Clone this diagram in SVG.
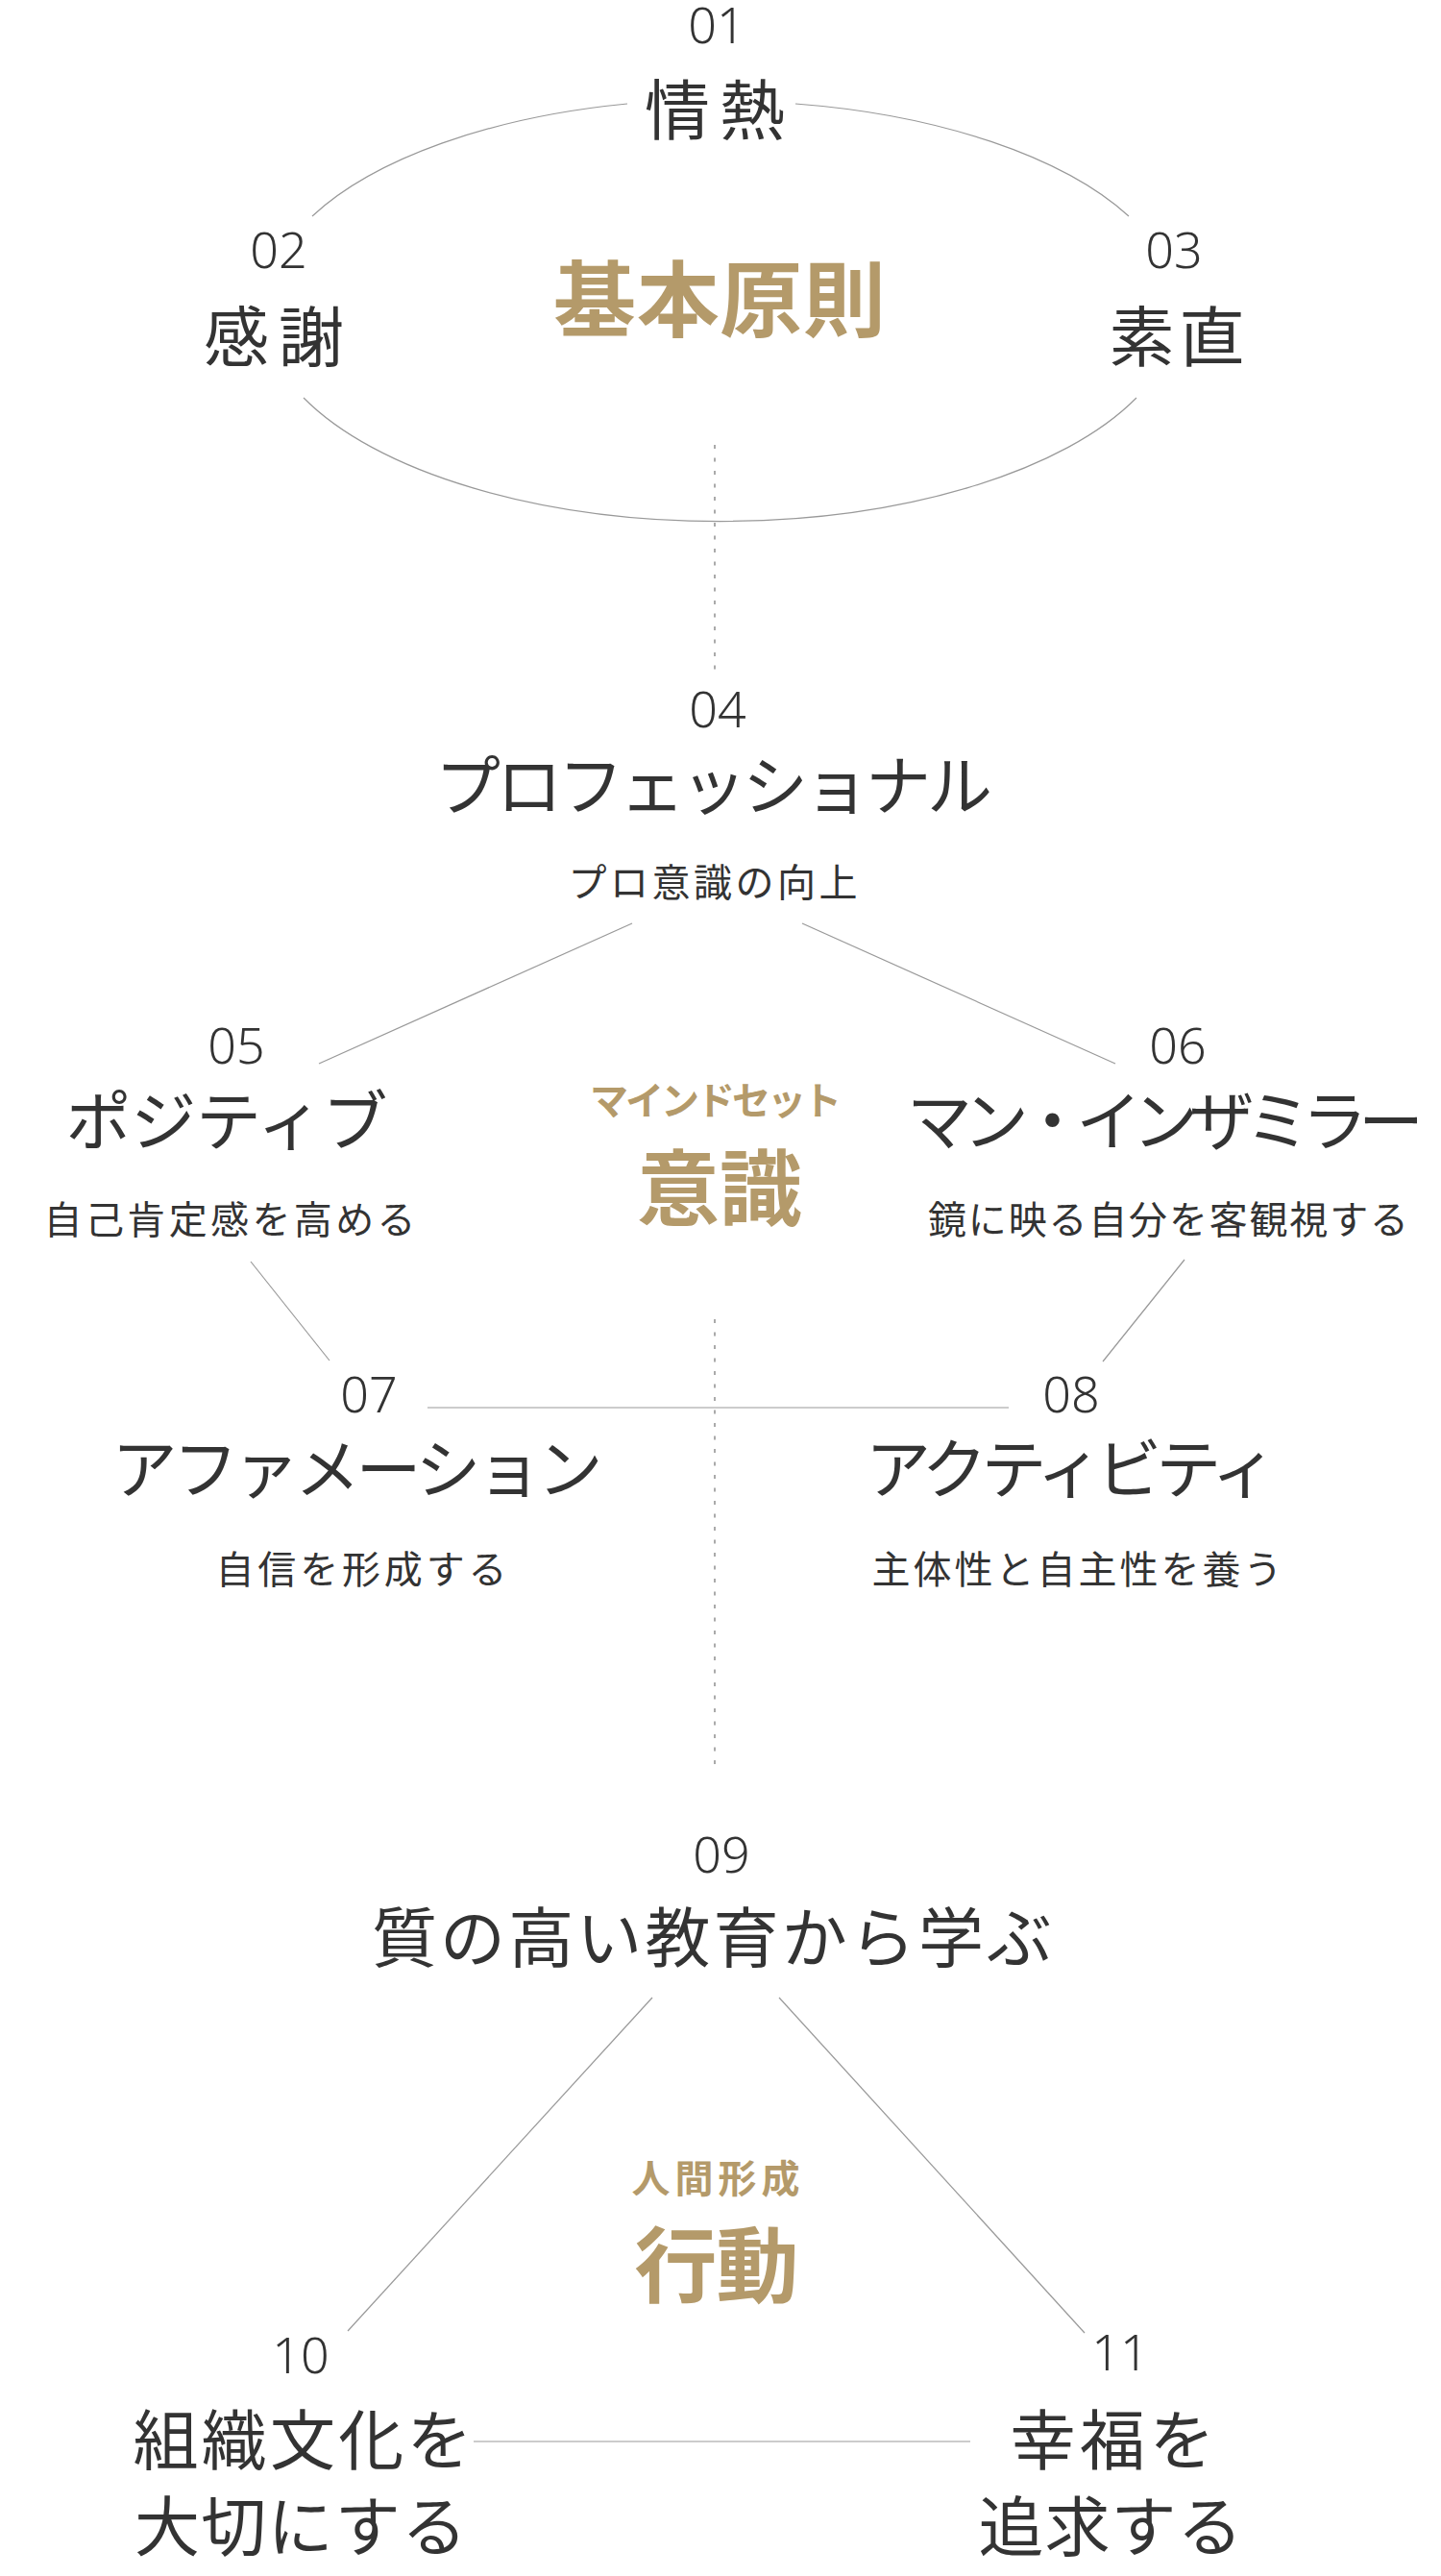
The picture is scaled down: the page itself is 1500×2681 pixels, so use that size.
<svg xmlns="http://www.w3.org/2000/svg" width="1500" height="2681" viewBox="0 0 1500 2681">
<style>
text{font-family:"Noto Sans CJK JP","Noto Sans",sans-serif;text-anchor:middle;fill:#333}
.num{font-family:"Noto Sans","Noto Sans CJK JP",sans-serif;font-size:52px;font-weight:300}
.lbl{font-size:68px;font-weight:400}
.sub{font-size:40px;font-weight:400}
.gold{fill:#b49a6a;font-weight:700}
.big{font-size:86px}
.small{font-size:40px}
.ln{fill:none;stroke:#999;stroke-width:1.2}
.dot{fill:none;stroke:#aaa;stroke-width:2;stroke-dasharray:4 9.5}
</style>
<rect width="1500" height="2681" fill="#fff"/>
<g id="connectors">
<path class="ln" d="M 325 225 A 476 219 0 0 1 653 108"/>
<path class="ln" d="M 828 108 A 476 219 0 0 1 1175 225"/>
<path class="ln" d="M 316 414 A 476 219 0 0 0 1183 414"/>
<line class="dot" x1="744" y1="463" x2="744" y2="697"/>
<line class="ln" x1="658" y1="961" x2="332" y2="1107"/>
<line class="ln" x1="835" y1="961" x2="1161" y2="1107"/>
<line class="ln" x1="261" y1="1313" x2="343" y2="1416"/>
<line class="ln" x1="1233" y1="1311" x2="1148" y2="1417"/>
<line class="ln" x1="445" y1="1465" x2="1050" y2="1465"/>
<line class="dot" x1="744" y1="1373" x2="744" y2="1839"/>
<line class="ln" x1="679" y1="2079" x2="362" y2="2426"/>
<line class="ln" x1="811" y1="2079" x2="1129" y2="2428"/>
<line class="ln" x1="493" y1="2541" x2="1010" y2="2541"/>
</g>
<g id="core-kihon">
<text class="gold big" x="749" y="344" textLength="346">基本原則</text>
</g>
<g id="node-01">
<text class="num" x="746" y="45">01</text>
<text class="lbl" x="744" y="140" textLength="146">情熱</text>
</g>
<g id="node-02">
<text class="num" x="290" y="279">02</text>
<text class="lbl" x="285" y="376" textLength="146">感謝</text>
</g>
<g id="node-03">
<text class="num" x="1222" y="279">03</text>
<text class="lbl" x="1225" y="376" textLength="141">素直</text>
</g>
<g id="node-04">
<text class="num" x="747" y="757">04</text>
<text class="lbl" x="743" y="843" textLength="580">プロフェッショナル</text>
<text class="sub" x="742" y="933" textLength="301">プロ意識の向上</text>
</g>
<g id="core-ishiki">
<text class="gold small" x="745" y="1160" textLength="262">マインドセット</text>
<text class="gold big" x="749" y="1269" textLength="172">意識</text>
</g>
<g id="node-05">
<text class="num" x="246" y="1107">05</text>
<text class="lbl" x="236" y="1192" textLength="335">ポジティブ</text>
<text class="sub" x="239" y="1284" textLength="387">自己肯定感を高める</text>
</g>
<g id="node-06">
<text class="num" x="1226" y="1107">06</text>
<text class="lbl" x="1213" y="1192" textLength="538">マン・インザミラー</text>
<text class="sub" x="1216" y="1284" textLength="500">鏡に映る自分を客観視する</text>
</g>
<g id="node-07">
<text class="num" x="384" y="1470">07</text>
<text class="lbl" x="372" y="1554" textLength="511">アファメーション</text>
<text class="sub" x="376" y="1648" textLength="303">自信を形成する</text>
</g>
<g id="node-08">
<text class="num" x="1115" y="1470">08</text>
<text class="lbl" x="1115" y="1554" textLength="428">アクティビティ</text>
<text class="sub" x="1121" y="1648" textLength="427">主体性と自主性を養う</text>
</g>
<g id="node-09">
<text class="num" x="751" y="1949">09</text>
<text class="lbl" x="741" y="2042" textLength="708">質の高い教育から学ぶ</text>
</g>
<g id="core-kodo">
<text class="gold small" x="745" y="2282" textLength="175">人間形成</text>
<text class="gold big" x="746" y="2390" textLength="171">行動</text>
</g>
<g id="node-10">
<text class="num" x="313" y="2470">10</text>
<text class="lbl" x="315" y="2565" textLength="353">組織文化を</text>
<text class="lbl" x="313" y="2655" textLength="346">大切にする</text>
</g>
<g id="node-11">
<text class="num" x="1166" y="2467">11</text>
<text class="lbl" x="1158" y="2565" textLength="213">幸福を</text>
<text class="lbl" x="1156" y="2655" textLength="275">追求する</text>
</g>
</svg>
